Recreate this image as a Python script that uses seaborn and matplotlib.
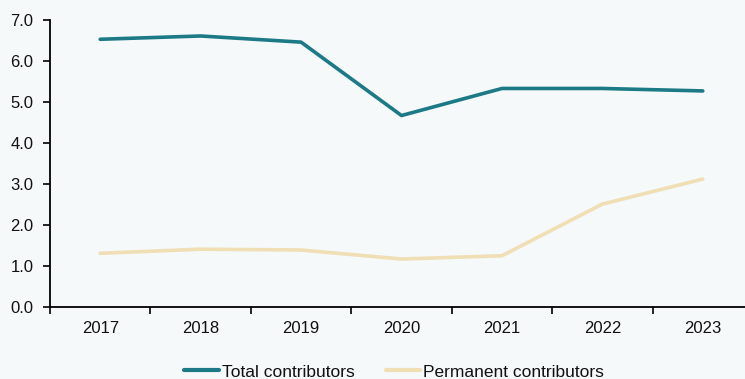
import numpy as np
import pandas as pd
import matplotlib
matplotlib.use("Agg")
import matplotlib.pyplot as plt
import seaborn as sns

years = ["2017", "2018", "2019", "2020", "2021", "2022", "2023"]
total_contributors = [6.53, 6.61, 6.46, 4.67, 5.33, 5.33, 5.27]
permanent_contributors = [1.31, 1.41, 1.39, 1.17, 1.25, 2.51, 3.12]
series_names = ["Total contributors", "Permanent contributors"]
y_ticks = [0.0, 1.0, 2.0, 3.0, 4.0, 5.0, 6.0, 7.0]

BG = "#F5F9FA"
TEAL = "#1B7A86"
BEIGE = "#F0DEB5"
TXT = "#111111"

sns.set_theme(style="white")
plt.rcParams["font.family"] = ["Liberation Sans", "DejaVu Sans"]

df = pd.DataFrame({
    "pos": list(range(len(years))) * 2,
    "value": total_contributors + permanent_contributors,
    "series": [series_names[0]] * len(years) + [series_names[1]] * len(years),
})

fig = plt.figure(figsize=(7.45, 3.79), dpi=100, facecolor=BG)
W, H = 745, 379
ax = fig.add_axes([50 / W, (H - 307) / H, 703 / W, 287 / H])
ax.set_facecolor(BG)

sns.lineplot(data=df, x="pos", y="value", hue="series", hue_order=series_names,
             palette=[TEAL, BEIGE], linewidth=2.6, ax=ax, legend=False,
             solid_capstyle="round")

ax.set_xlim(-0.5, len(years) - 0.5)
ax.set_ylim(0, 7)
ax.set_yticks(y_ticks)
ax.set_yticklabels([f"{t:.1f}" for t in y_ticks])

# boundary ticks between categories, labels centred on each category
ax.set_xticks(np.arange(-0.5, len(years), 1.0))
ax.set_xticklabels([])
ax.set_xticks(range(len(years)), minor=True)
ax.set_xticklabels(years, minor=True)
ax.tick_params(axis="x", which="major", direction="out", length=5, width=1.2, color="black", bottom=True)
ax.tick_params(axis="x", which="minor", length=0, pad=10, labelsize=12, labelcolor=TXT)
ax.tick_params(axis="y", direction="out", length=5, width=1.2, color="black", left=True,
               labelsize=12, labelcolor=TXT, pad=7)

ax.set_xlabel("")
ax.set_ylabel("")
for side in ["top", "right"]:
    ax.spines[side].set_visible(False)
for side in ["left", "bottom"]:
    ax.spines[side].set_color("black")
    ax.spines[side].set_linewidth(1.3)

handles = [plt.Line2D([], [], color=TEAL, linewidth=3),
           plt.Line2D([], [], color=BEIGE, linewidth=3)]
fig.legend(handles, series_names, loc="center", bbox_to_anchor=(394 / W, 1 - 372 / H),
           ncol=2, frameon=False, fontsize=12.5, handlelength=2.0, handletextpad=0.15,
           columnspacing=1.8, labelcolor=TXT)

fig.savefig("out.png", dpi=100, facecolor=BG)
